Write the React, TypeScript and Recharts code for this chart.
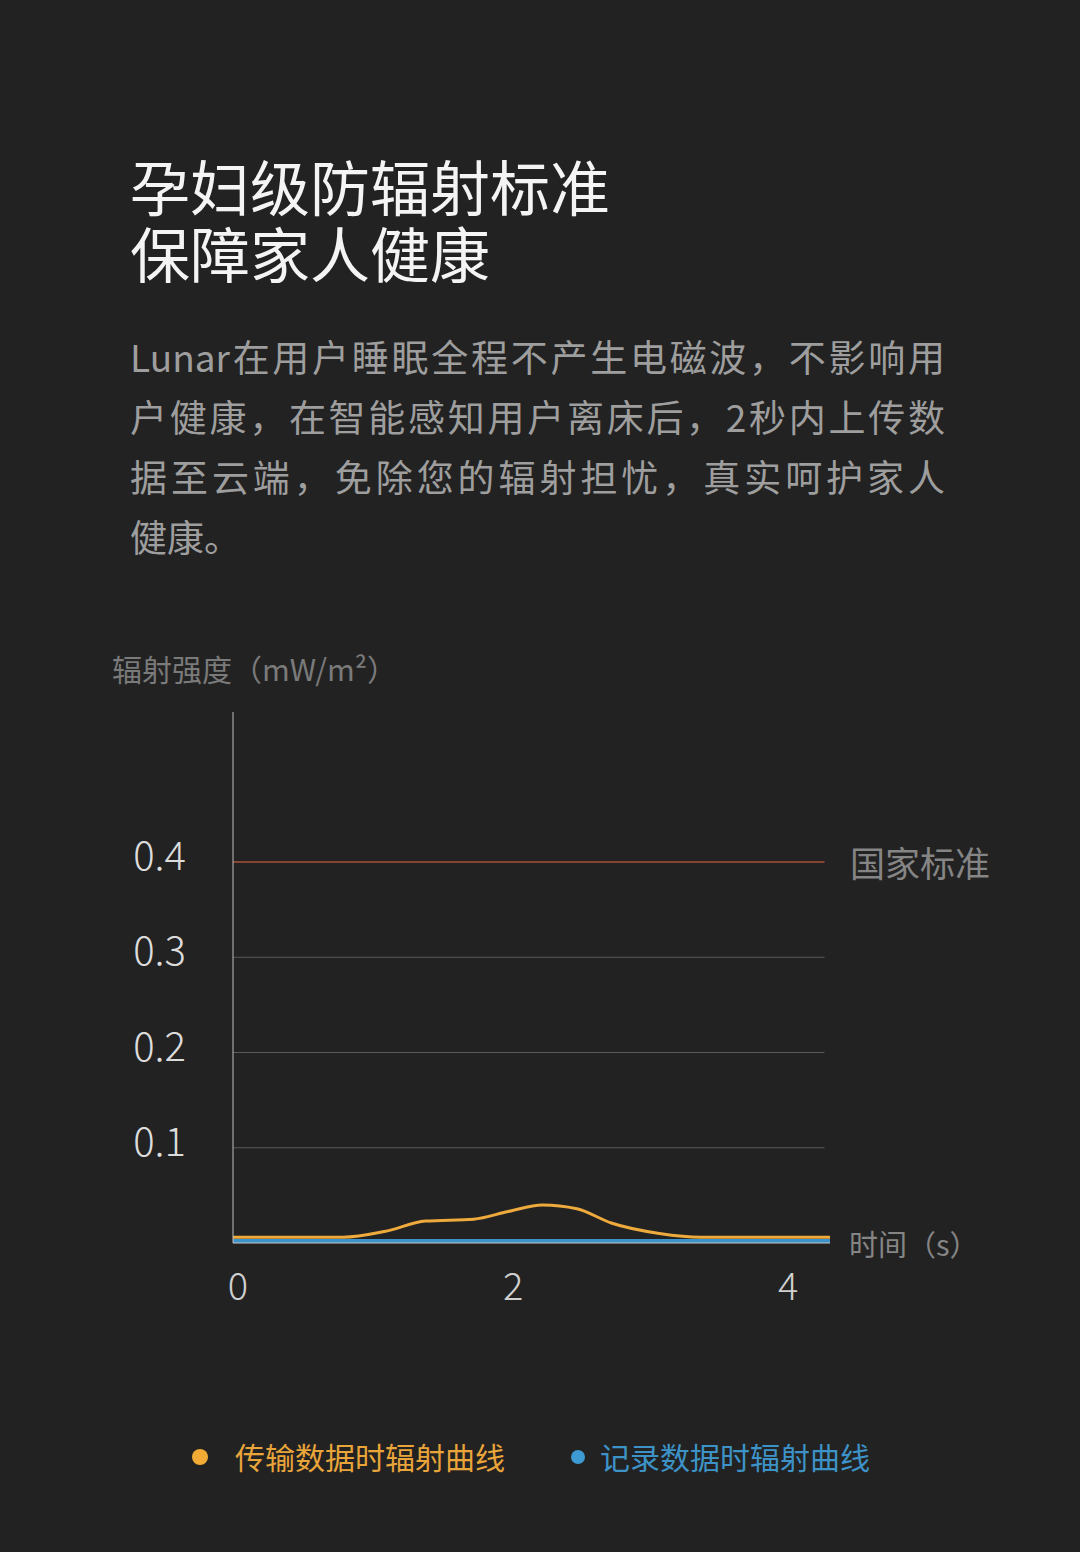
import React from 'react';
import { LineChart, Line, XAxis, YAxis, ReferenceLine } from 'recharts';

const times = [0, 0.8, 1.1, 1.4, 1.75, 2.0, 2.25, 2.5, 2.75, 3.1, 3.4, 4.34];
const transmitValues = [0.006, 0.006, 0.012, 0.023, 0.025, 0.033, 0.04, 0.036, 0.021, 0.01, 0.006, 0.006];
const recordValues = [0.002, 0.002, 0.002, 0.002, 0.002, 0.002, 0.002, 0.002, 0.002, 0.002, 0.002, 0.002];
const yTicks = [0.1, 0.2, 0.3, 0.4];
const xTicks = [0, 2, 4];
const gridValues = [0.1, 0.2, 0.3];
const standardValue = 0.4;

const titleLines = ['孕妇级防辐射标准', '保障家人健康'];
const bodyLines = [
  'Lunar在用户睡眠全程不产生电磁波，不影响用',
  '户健康，在智能感知用户离床后，2秒内上传数',
  '据至云端，免除您的辐射担忧，真实呵护家人',
  '健康。',
];

const data = times.map((t, i) => ({ t, transmit: transmitValues[i], record: recordValues[i] }));

const FONT = '"Noto Sans CJK SC", "Noto Sans", sans-serif';
const ORANGE = '#eeaa3c';
const BLUE = '#3b92c9';

const YTick = (props: any) => {
  const { x, y, payload } = props;
  return (
    <text x={x} y={y - 9} textAnchor="end" dominantBaseline="central" fill="#dcdcdc" fontSize={40} fontFamily={FONT} fontWeight={300}>
      {payload.value}
    </text>
  );
};

const XTick = (props: any) => {
  const { x, y, payload } = props;
  return (
    <text x={x + 5} y={y + 32} textAnchor="middle" dominantBaseline="central" fill="#d0d0d0" fontSize={38} fontFamily={FONT} fontWeight={300}>
      {payload.value}
    </text>
  );
};

const App: React.FC = () => {
  return (
    <div style={{ position: 'absolute', left: 0, top: 0, width: 1080, height: 1552, background: '#222222', overflow: 'hidden', fontFamily: FONT }}>
      {titleLines.map((l, i) => (
        <div key={l} style={{ position: 'absolute', left: 130, top: 152 + i * 67, color: '#f4f4f4', fontSize: 60, lineHeight: '66px', whiteSpace: 'nowrap' }}>
          {l}
        </div>
      ))}
      <div style={{ position: 'absolute', left: 130, top: 326, width: 815, color: '#9e9e9e', fontSize: 37, lineHeight: '60px', whiteSpace: 'nowrap' }}>
        {bodyLines.map((l, i) => (
          <div key={l} style={{ textAlign: 'justify', textAlignLast: i < bodyLines.length - 1 ? 'justify' : 'left', textJustify: 'inter-character' } as any}>
            {l}
          </div>
        ))}
      </div>
      <div style={{ position: 'absolute', left: 112, top: 648, color: '#7a7a7a', fontSize: 30, lineHeight: '40px', whiteSpace: 'nowrap' }}>
        辐射强度（mW/m²）
      </div>

      <div style={{ position: 'absolute', left: 0, top: 0 }}>
        <LineChart width={1080} height={1552} data={data} margin={{ top: 712, right: 250, bottom: 0, left: 0 }}>
          <XAxis
            dataKey="t"
            type="number"
            domain={[0, 4.34]}
            ticks={xTicks}
            allowDataOverflow
            axisLine={{ stroke: '#c8c8c8', strokeWidth: 1 }}
            tickLine={false}
            tick={<XTick />}
            height={309}
          />
          <YAxis
            type="number"
            domain={[0, 0.5575]}
            ticks={yTicks}
            allowDataOverflow
            axisLine={{ stroke: '#bdbdbd', strokeWidth: 1 }}
            tickLine={false}
            tickSize={0}
            tickMargin={47}
            tick={<YTick />}
            width={233}
          />
          {gridValues.map((v) => (
            <ReferenceLine key={v} segment={[{ x: 0, y: v }, { x: 4.3, y: v }]} stroke="#5a5a5a" strokeWidth={1} />
          ))}
          <ReferenceLine segment={[{ x: 0, y: standardValue }, { x: 4.3, y: standardValue }]} stroke="#a8503a" strokeWidth={1.5} />
          <Line type="monotone" dataKey="record" stroke={BLUE} strokeWidth={4} dot={false} isAnimationActive={false} />
          <Line type="monotone" dataKey="transmit" stroke={ORANGE} strokeWidth={3} dot={false} isAnimationActive={false} />
        </LineChart>
      </div>

      <div style={{ position: 'absolute', left: 850, top: 840, color: '#858585', fontSize: 35, lineHeight: '44px', whiteSpace: 'nowrap' }}>
        国家标准
      </div>
      <div style={{ position: 'absolute', left: 849, top: 1223, color: '#858585', fontSize: 29, lineHeight: '40px', whiteSpace: 'nowrap' }}>
        时间（s）
      </div>

      <div style={{ position: 'absolute', left: 192, top: 1449, width: 16, height: 16, borderRadius: 8, background: '#f2ac35' }} />
      <div style={{ position: 'absolute', left: 235, top: 1436, color: '#e9a53a', fontSize: 30, lineHeight: '40px', whiteSpace: 'nowrap' }}>
        传输数据时辐射曲线
      </div>
      <div style={{ position: 'absolute', left: 571, top: 1450, width: 14, height: 14, borderRadius: 7, background: '#3e9ad3' }} />
      <div style={{ position: 'absolute', left: 600, top: 1436, color: '#3d93c8', fontSize: 30, lineHeight: '40px', whiteSpace: 'nowrap' }}>
        记录数据时辐射曲线
      </div>
    </div>
  );
};

export default App;
